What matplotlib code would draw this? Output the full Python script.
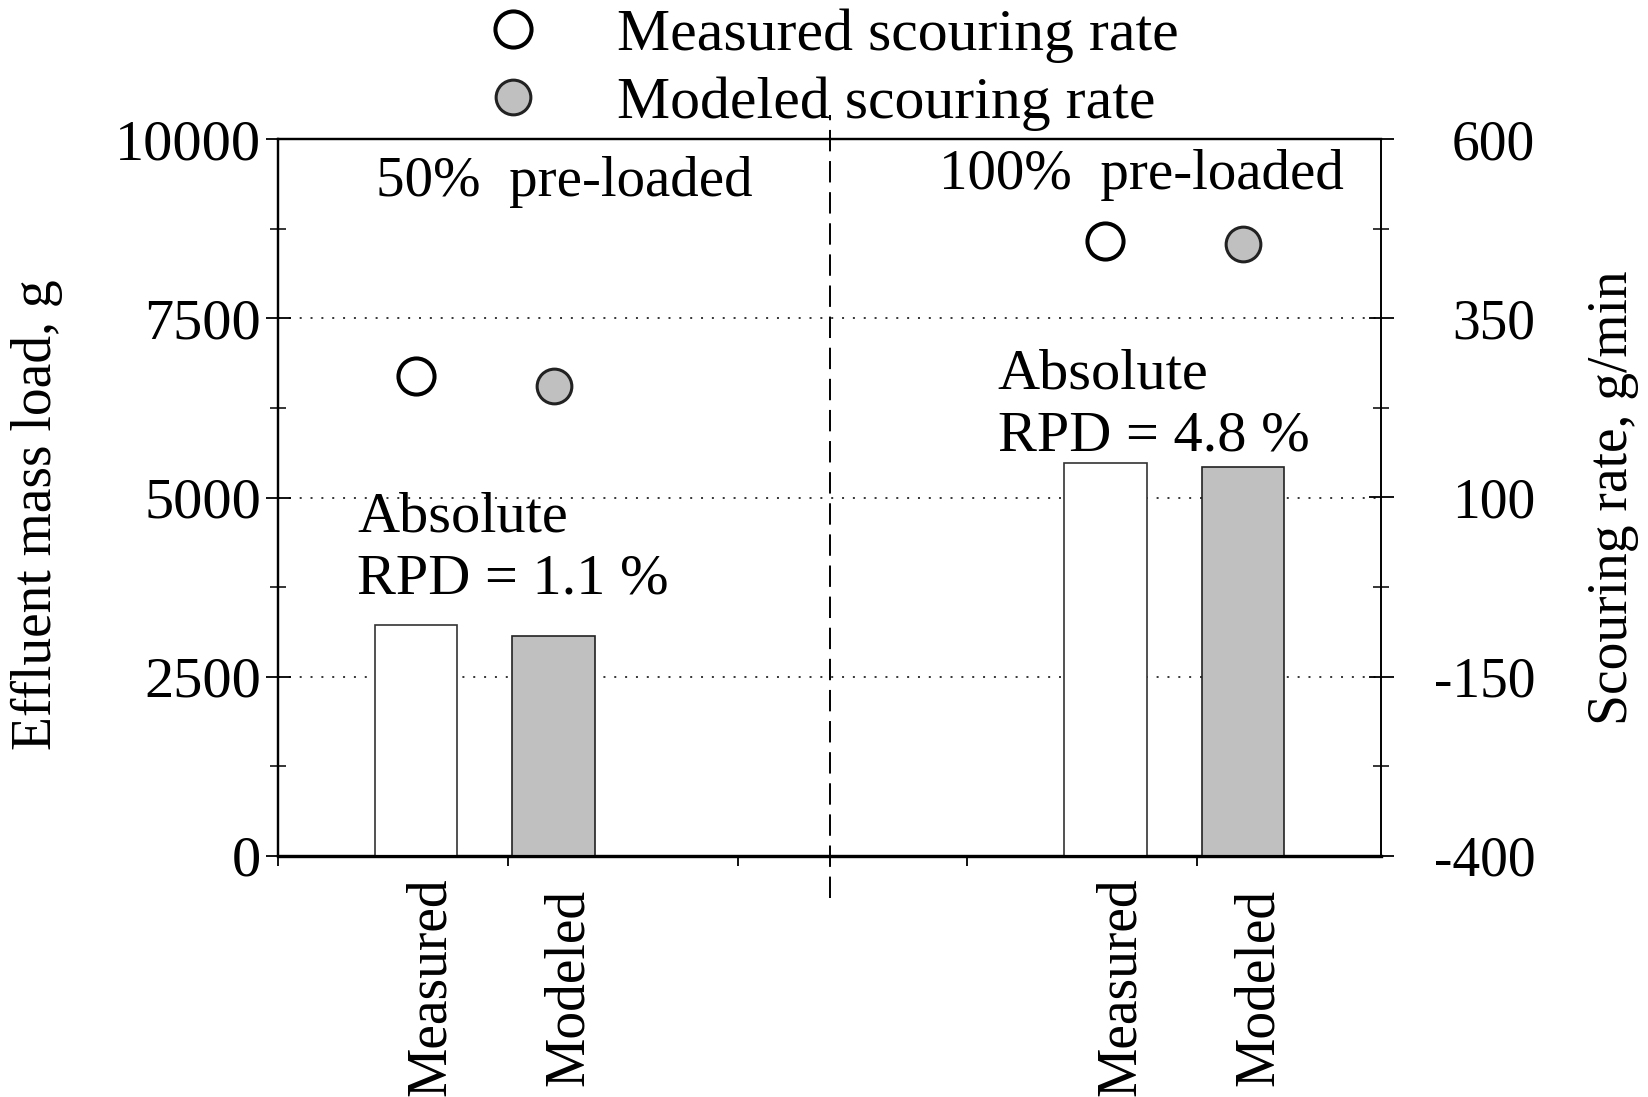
import matplotlib
matplotlib.use("Agg")
import matplotlib.pyplot as plt
import matplotlib.transforms as mtransforms
import numpy as np
from matplotlib.ticker import MultipleLocator, FixedLocator, NullFormatter

plt.rcParams['font.family'] = ['Liberation Serif', 'DejaVu Serif']
plt.rcParams['axes.unicode_minus'] = False

# ---- data ----
groups = ["50% pre-loaded", "100% pre-loaded"]
bar_labels = ["Measured", "Modeled", "Measured", "Modeled"]
bar_pos = [1, 2, 6, 7]
measured_load = [3215, 5485]      # effluent mass load, g
modeled_load = [3068, 5430]
measured_rate = [269, 458]        # scouring rate, g/min
modeled_rate = [256, 454]
rate_ticks = [-400, -150, 100, 350, 600]
rpd_text = ["Absolute\nRPD = 1.1 %", "Absolute\nRPD = 4.8 %"]

W, H, DPI = 1648, 1097, 100
fig = plt.figure(figsize=(W / DPI, H / DPI), dpi=DPI)
L, R, T, B = 278, 1381, 139, 856
ax = fig.add_axes([L / W, 1 - B / H, (R - L) / W, (B - T) / H])
ax2 = ax.twinx()

gray = "#c0c0c0"
FS = 40

# bars
meas_x = [bar_pos[0], bar_pos[2]]
mod_x = [bar_pos[1], bar_pos[3]]
ax.bar(meas_x, measured_load, width=0.6, color="white", edgecolor="#333333",
       linewidth=1.2, zorder=3)
ax.bar(mod_x, modeled_load, width=0.6, color=gray, edgecolor="#222222",
       linewidth=1.2, zorder=3)

# dotted horizontal grid
for yv in [2500, 5000, 7500]:
    ax.axhline(yv, color="black", linewidth=1.1, linestyle=(0, (1.3, 5.8)), zorder=1)

ax.set_xlim(0, 8)
ax.set_ylim(0, 10000)
ax.yaxis.set_major_locator(MultipleLocator(2500))
ax.yaxis.set_minor_locator(MultipleLocator(1250))
ax.xaxis.set_major_locator(FixedLocator(np.arange(0, 8, 5 / 3)))
ax.xaxis.set_major_formatter(NullFormatter())

ax.tick_params(axis="y", which="major", direction="inout", length=18, width=1.3,
               labelsize=42, pad=3)
ax.tick_params(axis="y", which="minor", direction="inout", length=11, width=1.1)
ax.tick_params(axis="x", which="major", direction="out", length=7, width=1.3)

for side, lw in [("left", 1.6), ("bottom", 2.3), ("top", 1.6), ("right", 1.2)]:
    ax.spines[side].set_linewidth(lw)
    ax2.spines[side].set_linewidth(lw)

# category labels under the bars
lab_tr = mtransforms.offset_copy(ax.get_xaxis_transform(), fig=fig, x=11, y=0, units="points")
for x, lab in zip(bar_pos, bar_labels):
    ax.text(x, -0.1827, lab, transform=lab_tr, rotation=90,
            ha="center", va="center", fontsize=FS)

# divider between the two loading cases
ax.plot([4, 4], [-0.0586, 1.0335], transform=ax.get_xaxis_transform(),
        color="black", linewidth=1.4, linestyle=(0, (11, 5)), clip_on=False, zorder=4)

# scouring-rate markers on the secondary axis
h1, = ax2.plot(meas_x, measured_rate, linestyle="none", marker="o", markersize=26,
               markerfacecolor="white", markeredgecolor="black", markeredgewidth=2.9,
               label="Measured scouring rate", zorder=5)
h2, = ax2.plot(mod_x, modeled_rate, linestyle="none", marker="o", markersize=25,
               markerfacecolor=gray, markeredgecolor="#222222", markeredgewidth=2.2,
               label="Modeled scouring rate", zorder=5)
ax2.set_ylim(-400, 600)
ax2.yaxis.set_major_locator(FixedLocator(rate_ticks))
ax2.yaxis.set_minor_locator(FixedLocator(np.arange(-275, 600, 250)))
ax2.tick_params(axis="y", which="major", direction="inout", length=18, width=1.3,
                labelsize=FS, pad=102)
ax2.tick_params(axis="y", which="minor", direction="inout", length=11, width=1.1)
for t in ax2.get_yticklabels():
    t.set_horizontalalignment("right")

ax.set_ylabel("Effluent mass load, g", fontsize=FS, va="center")
ax.yaxis.set_label_coords(-0.2185, 0.4756)
ax2.set_ylabel("Scouring rate, g/min", fontsize=FS, rotation=90, va="center")
ax2.yaxis.set_label_coords(1.2103, 0.5)

# annotations
ax.text(2.08, 9400, groups[0].replace(" ", "  ", 1), ha="center", va="center", fontsize=FS + 1)
ax.text(6.26, 9498, groups[1].replace(" ", "  ", 1), ha="center", va="center", fontsize=FS + 1)
ax.text(0.573, 4290, rpd_text[0], ha="left", va="center", fontsize=42, linespacing=1.25)
ax.text(5.22, 6280, rpd_text[1], ha="left", va="center", fontsize=42, linespacing=1.25)

fig.legend(handles=[h1, h2], loc="upper left", bbox_to_anchor=(483 / W, 1 - 8 / H),
           frameon=False, fontsize=43, borderpad=0, borderaxespad=0,
           handlelength=1.0, handletextpad=1.25, labelspacing=0.22)

fig.savefig("out.png", dpi=DPI, facecolor="white")
